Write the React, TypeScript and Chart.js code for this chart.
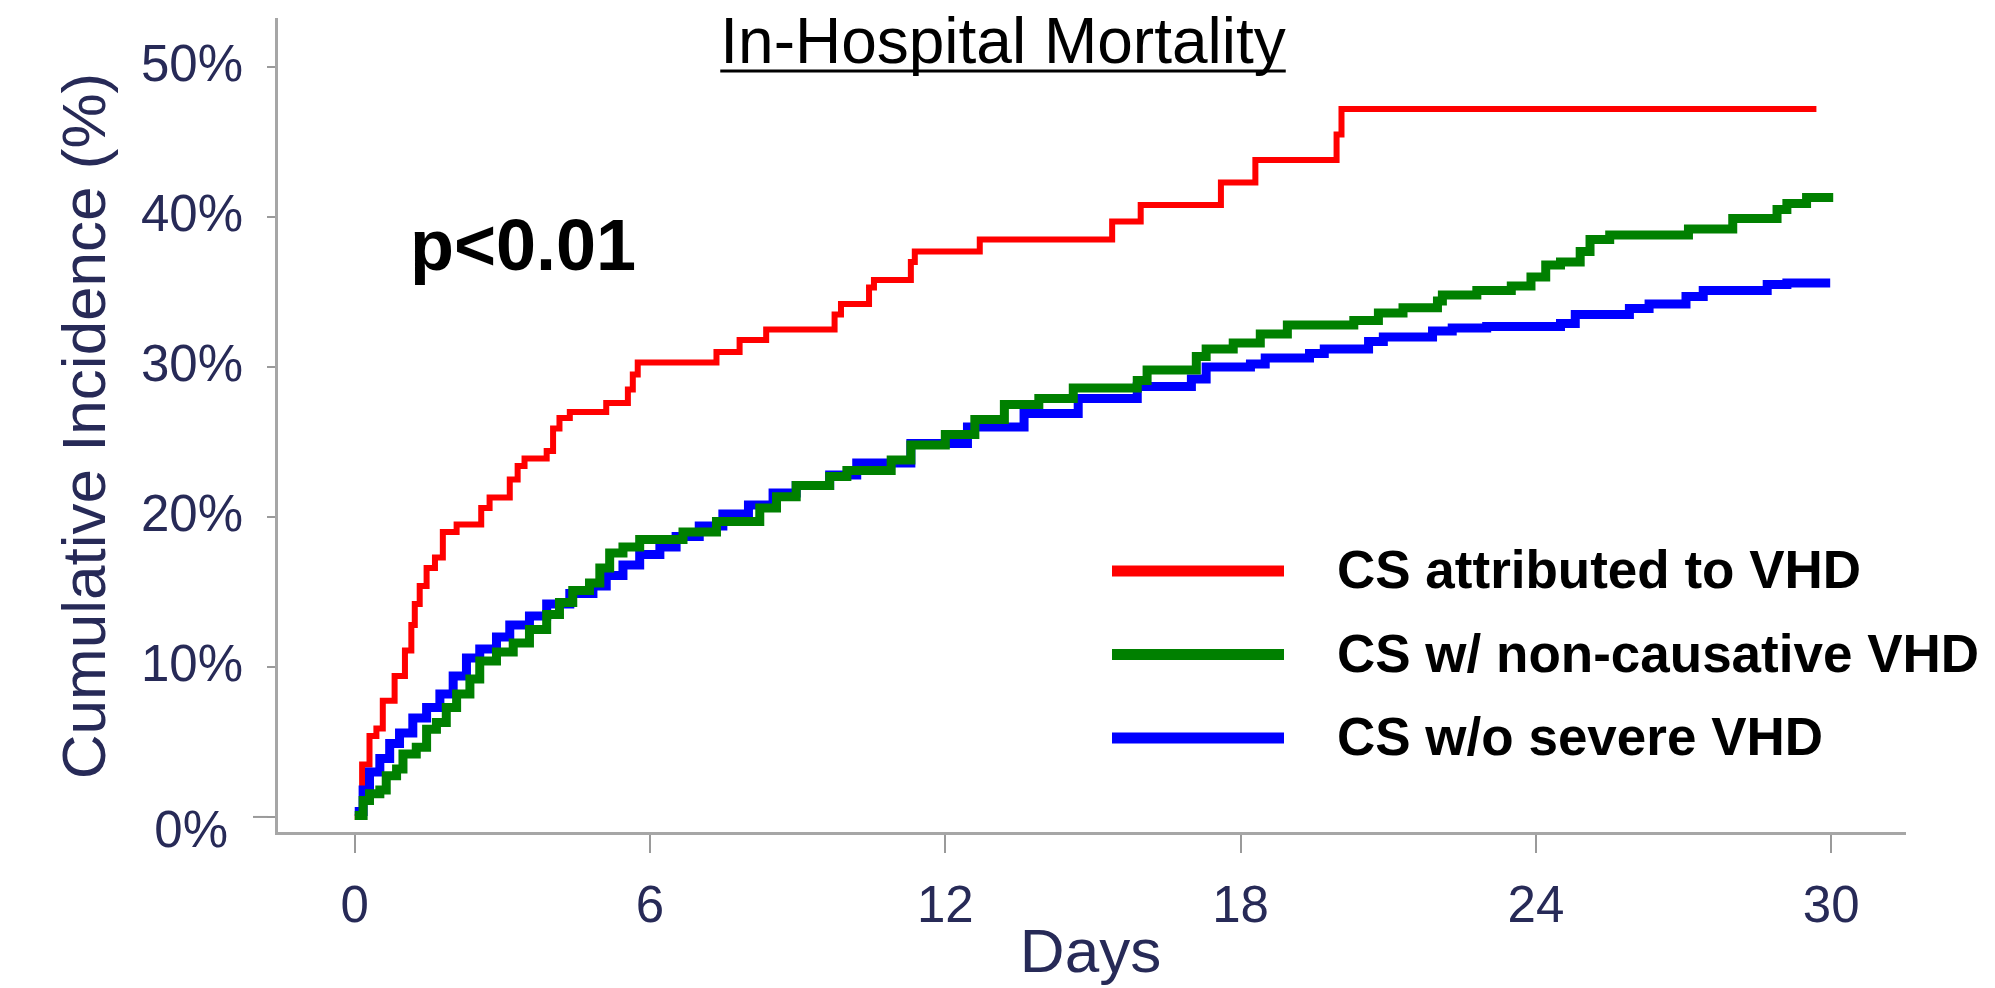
import React, { useEffect, useRef } from 'react';
import { Chart, registerables } from 'chart.js';

Chart.register(...registerables);

// ---- data ----
const xTickValues = [0, 6, 12, 18, 24, 30];
const yTickValues = [0, 10, 20, 30, 40, 50];
const seriesNames = ['CS attributed to VHD', 'CS w/ non-causative VHD', 'CS w/o severe VHD'];
const seriesColors = ['#ff0000', '#008000', '#0000ff'];

const redDays = [0, 0.15, 0.3, 0.44, 0.57, 0.81, 1.02, 1.15, 1.22, 1.32, 1.46, 1.63, 1.79, 2.07, 2.57, 2.74, 3.15, 3.31, 3.45, 3.9, 4.03, 4.16, 4.37, 5.11, 5.55, 5.65, 5.75, 7.35, 7.82, 8.36, 9.75, 9.88, 10.45, 10.55, 11.3, 11.38, 12.7, 15.39, 15.97, 17.6, 18.3, 19.95, 20.05, 29.7];
const redPct = [0, 3.5, 5.4, 5.9, 7.75, 9.4, 11.1, 12.8, 14.2, 15.4, 16.6, 17.3, 19.0, 19.5, 20.6, 21.3, 22.5, 23.4, 23.9, 24.4, 25.9, 26.6, 27.0, 27.6, 28.5, 29.5, 30.3, 31.0, 31.8, 32.5, 33.5, 34.2, 35.3, 35.8, 37.0, 37.7, 38.5, 39.7, 40.8, 42.3, 43.8, 45.5, 47.2, 47.2];

const greenDays = [0, 0.17, 0.3, 0.51, 0.64, 0.85, 0.98, 1.25, 1.46, 1.66, 1.86, 2.07, 2.34, 2.54, 2.88, 3.22, 3.55, 3.9, 4.16, 4.43, 4.77, 4.98, 5.18, 5.45, 5.79, 6.67, 7.35, 8.23, 8.57, 8.97, 9.65, 10.0, 10.9, 11.3, 12.0, 12.6, 13.2, 13.9, 14.6, 15.9, 16.1, 17.1, 17.3, 17.85, 18.4, 18.95, 20.3, 20.8, 21.3, 22.0, 22.1, 22.8, 23.5, 23.9, 24.2, 24.5, 24.9, 25.1, 25.5, 27.1, 28.0, 28.9, 29.1, 29.5, 29.95];
const greenPct = [0.1, 1.1, 1.55, 1.8, 2.75, 3.2, 4.2, 4.65, 5.85, 6.3, 7.3, 8.2, 9.2, 10.4, 11.0, 11.6, 12.5, 13.5, 14.3, 15.1, 15.6, 16.6, 17.6, 18.0, 18.5, 19.0, 19.7, 20.6, 21.35, 22.1, 22.7, 23.1, 23.8, 24.8, 25.5, 26.5, 27.5, 27.9, 28.6, 29.1, 29.8, 30.7, 31.2, 31.6, 32.2, 32.8, 33.1, 33.6, 33.95, 34.4, 34.8, 35.1, 35.4, 36.0, 36.8, 37.0, 37.7, 38.5, 38.8, 39.2, 39.9, 40.5, 40.9, 41.3, 41.6];

const blueDays = [0, 0.17, 0.3, 0.51, 0.71, 0.91, 1.18, 1.46, 1.73, 2.0, 2.27, 2.54, 2.88, 3.15, 3.55, 3.9, 4.37, 4.84, 5.11, 5.45, 5.79, 6.2, 6.53, 7.0, 7.48, 8.0, 8.5, 8.97, 9.65, 10.2, 11.3, 12.45, 13.6, 14.7, 15.9, 17.0, 17.3, 18.2, 18.5, 19.4, 19.7, 20.6, 20.9, 21.9, 22.3, 23.0, 24.5, 24.8, 25.9, 26.3, 27.05, 27.4, 28.7, 29.1, 29.98];
const bluePct = [0.36, 1.8, 3.0, 3.9, 4.9, 5.6, 6.6, 7.3, 8.2, 9.4, 10.6, 11.2, 12.0, 12.8, 13.4, 14.2, 14.9, 15.4, 16.1, 16.8, 17.5, 18.0, 18.7, 19.4, 20.2, 20.8, 21.6, 22.1, 22.8, 23.6, 24.9, 26.0, 26.9, 27.9, 28.7, 29.2, 30.0, 30.2, 30.6, 30.9, 31.2, 31.7, 32.0, 32.4, 32.6, 32.7, 32.9, 33.5, 33.9, 34.2, 34.7, 35.1, 35.5, 35.6, 35.6];

const titleText = 'In-Hospital Mortality';
const pValueText = 'p<0.01';
const xAxisTitle = 'Days';
const yAxisTitle = 'Cumulative Incidence (%)';

// ---- styles ----
const FAMILY = '"Liberation Sans", Arial, Helvetica, sans-serif';
const NAVY = '#272a57';
const AXIS_GREY = '#a6a6a6';
const TICK_GREY = '#9a9a9a';

function toPoints(days: number[], pct: number[]) {
  return days.map((d, i) => ({ x: d, y: pct[i] }));
}

export default function App() {
  const ref = useRef<HTMLCanvasElement | null>(null);

  useEffect(() => {
    if (!ref.current) return;

    const overlay = {
      id: 'overlay',
      afterDraw(chart: any) {
        const ctx = chart.ctx as CanvasRenderingContext2D;
        const ys = chart.scales.y;
        ctx.save();

        // longer tick + offset label for 0%
        const y0 = ys.getPixelForValue(0);
        ctx.strokeStyle = TICK_GREY;
        ctx.lineWidth = 2;
        ctx.beginPath();
        ctx.moveTo(ys.right - 23, y0);
        ctx.lineTo(ys.right - 8, y0);
        ctx.stroke();
        ctx.fillStyle = NAVY;
        ctx.font = `51px ${FAMILY}`;
        ctx.textAlign = 'right';
        ctx.textBaseline = 'middle';
        ctx.fillText(yTickValues[0] + '%', ys.right - 48, y0 + 16);

        // title with underline
        ctx.fillStyle = '#000';
        ctx.font = `64px ${FAMILY}`;
        ctx.textAlign = 'center';
        ctx.textBaseline = 'alphabetic';
        const tx = 1003;
        const tyBase = 63;
        ctx.fillText(titleText, tx, tyBase);
        const tw = ctx.measureText(titleText).width;
        ctx.strokeStyle = '#000';
        ctx.lineWidth = 3;
        ctx.beginPath();
        ctx.moveTo(tx - tw / 2, tyBase + 8);
        ctx.lineTo(tx + tw / 2, tyBase + 8);
        ctx.stroke();

        // p value
        ctx.font = `bold 72px ${FAMILY}`;
        ctx.textAlign = 'left';
        ctx.fillText(pValueText, 410, 270);

        // legend
        const legY0 = 571;
        const legStep = 83.5;
        ctx.font = `bold 53px ${FAMILY}`;
        seriesNames.forEach((name, i) => {
          const ly = legY0 + i * legStep;
          ctx.strokeStyle = seriesColors[i];
          ctx.lineWidth = 11;
          ctx.lineCap = 'butt';
          ctx.beginPath();
          ctx.moveTo(1112, ly);
          ctx.lineTo(1284, ly);
          ctx.stroke();
          ctx.fillStyle = '#000';
          ctx.textBaseline = 'alphabetic';
          ctx.fillText(name, 1337, ly + 17);
        });

        ctx.restore();
      },
    };

    const chart = new Chart(ref.current, {
      type: 'line',
      data: {
        datasets: [
          {
            label: seriesNames[1],
            data: toPoints(greenDays, greenPct),
            borderColor: seriesColors[1],
            borderWidth: 9,
            stepped: 'before',
            pointRadius: 0,
            fill: false,
            order: 0,
          },
          {
            label: seriesNames[2],
            data: toPoints(blueDays, bluePct),
            borderColor: seriesColors[2],
            borderWidth: 9,
            stepped: 'before',
            pointRadius: 0,
            fill: false,
            order: 1,
          },
          {
            label: seriesNames[0],
            data: toPoints(redDays, redPct),
            borderColor: seriesColors[0],
            borderWidth: 6,
            stepped: 'before',
            pointRadius: 0,
            fill: false,
            order: 2,
          },
        ],
      },
      options: {
        responsive: false,
        animation: false,
        layout: { padding: { top: 19, right: 90, left: 0, bottom: 0 } },
        plugins: {
          legend: { display: false },
          title: { display: false },
          tooltip: { enabled: false },
        },
        scales: {
          x: {
            type: 'linear',
            min: -1.6,
            max: 31.5,
            afterBuildTicks: (s: any) => {
              s.ticks = xTickValues.map((v) => ({ value: v }));
            },
            afterFit: (s: any) => {
              s.height = 155;
              s.paddingLeft = 0;
              s.paddingRight = 0;
            },
            grid: { drawOnChartArea: false, drawTicks: true, tickLength: 20, color: TICK_GREY, lineWidth: 2 },
            border: { display: true, color: AXIS_GREY, width: 3 },
            ticks: {
              autoSkip: false,
              maxRotation: 0,
              padding: 24,
              color: NAVY,
              font: { size: 51, family: FAMILY },
              callback: (v: any) => String(v),
            },
            title: {
              display: true,
              text: xAxisTitle,
              color: NAVY,
              font: { size: 62, family: FAMILY, lineHeight: 1.08 },
              padding: 0,
            },
          },
          y: {
            type: 'linear',
            min: -1.07,
            max: 53.2,
            afterBuildTicks: (s: any) => {
              s.ticks = yTickValues.map((v) => ({ value: v }));
            },
            afterFit: (s: any) => {
              s.width = 276;
              s.paddingTop = 0;
              s.paddingBottom = 0;
            },
            grid: { drawOnChartArea: false, drawTicks: true, tickLength: 9, color: TICK_GREY, lineWidth: 2 },
            border: { display: true, color: AXIS_GREY, width: 3 },
            ticks: {
              padding: 24,
              color: NAVY,
              font: { size: 51, family: FAMILY },
              callback: (v: any) => (v === 0 ? '' : v + '%'),
            },
            title: {
              display: true,
              text: yAxisTitle,
              color: NAVY,
              font: { size: 62, family: FAMILY, lineHeight: 1.2 },
              padding: { top: 51, bottom: 0 },
            },
          },
        },
      },
      plugins: [overlay],
    });

    return () => chart.destroy();
  }, []);

  return (
    <div style={{ position: 'absolute', left: 0, top: 0, width: 1995, height: 988, background: '#fff' }}>
      <canvas ref={ref} width={1995} height={988} style={{ display: 'block', width: 1995, height: 988 }} />
    </div>
  );
}
